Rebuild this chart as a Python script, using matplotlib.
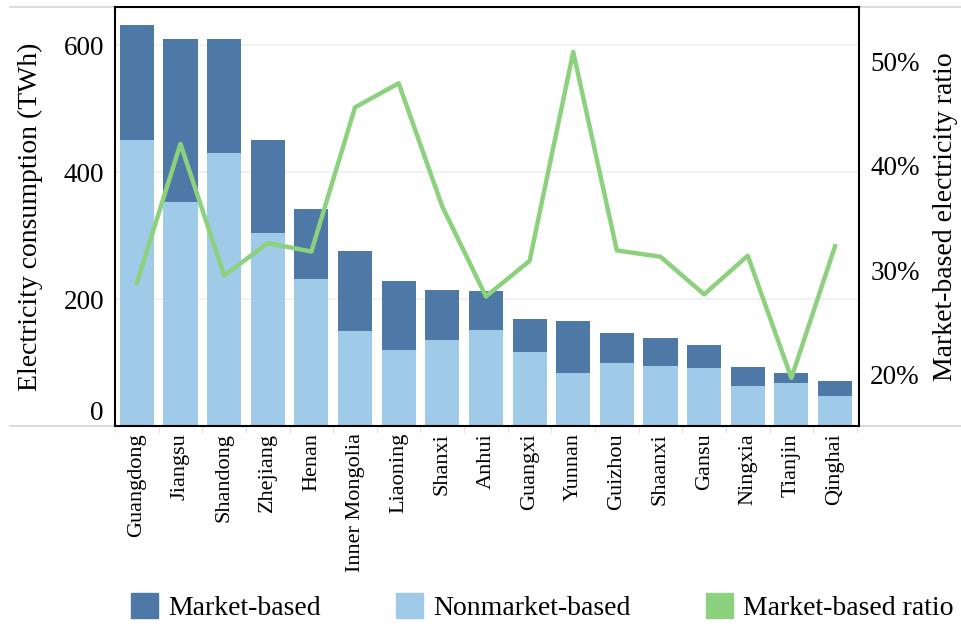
"""
Market-based vs nonmarket-based electricity consumption by province, with
market-based share on a secondary axis.
"""
import matplotlib
matplotlib.use("Agg")
import matplotlib.pyplot as plt
import matplotlib.transforms as mtransforms
from matplotlib.lines import Line2D
from matplotlib.patches import Patch
from matplotlib.ticker import FuncFormatter

provinces = ["Guangdong", "Jiangsu", "Shandong", "Zhejiang", "Henan", "Inner Mongolia",
             "Liaoning", "Shanxi", "Anhui", "Guangxi", "Yunnan", "Guizhou", "Shaanxi",
             "Gansu", "Ningxia", "Tianjin", "Qinghai"]
total = [632, 610, 609, 451, 342, 275, 229, 215, 213, 169, 166, 147, 138, 127, 93, 84, 71]
nonmarket = [451, 353, 430, 304, 231, 149, 119, 136, 152, 116, 83, 100, 95, 92, 63, 68, 47]
ratio = [0.288, 0.421, 0.295, 0.326, 0.318, 0.456, 0.479, 0.361, 0.275, 0.309, 0.509,
         0.319, 0.313, 0.277, 0.314, 0.197, 0.323]

DARK = "#4e79a7"
LIGHT = "#a0cbe8"
GREEN = "#8cd17d"

plt.rcParams["font.family"] = ["Liberation Serif", "DejaVu Serif"]

fig = plt.figure(figsize=(9.61, 6.26), dpi=100)
ax = fig.add_axes([0.1197, 0.3195, 0.7742, 0.6693])

x = list(range(len(provinces)))
market = [t - n for t, n in zip(total, nonmarket)]
ax.bar(x, nonmarket, width=0.78, color=LIGHT, zorder=2)
ax.bar(x, market, width=0.78, bottom=nonmarket, color=DARK, zorder=2)

ax.set_xlim(-0.48, 16.55)
ax.set_ylim(0, 660)
ax.set_yticks([0, 200, 400, 600])
ax.grid(axis="y", color="#efefef", linewidth=1.2, zorder=0)
ax.tick_params(axis="y", length=0, labelsize=19.5, pad=8)
ax.set_ylabel("Electricity consumption (TWh)", fontsize=20)
ax.yaxis.set_label_coords(-0.097, 0.5)

# the zero label sits a bit above the baseline in the original
zero = ax.get_yticklabels()[0]
zero.set_transform(zero.get_transform()
                   + mtransforms.ScaledTranslation(0, 0.15, fig.dpi_scale_trans))

ax.set_xticks(x)
ax.set_xticklabels(provinces, rotation=90, fontsize=16)
ax.tick_params(axis="x", length=0, pad=5)
ax.set_xticks([i + 0.5 for i in range(-1, len(provinces))], minor=True)
ax.tick_params(axis="x", which="minor", length=5, color="#dddddd")
for s in ax.spines.values():
    s.set_linewidth(1.5)
    s.set_color("black")

ax2 = ax.twinx()
ax2.plot(x, ratio, color=GREEN, linewidth=3.2, zorder=3)
ax2.set_ylim(0.151, 0.552)
ax2.set_yticks([0.2, 0.3, 0.4, 0.5])
ax2.yaxis.set_major_formatter(FuncFormatter(lambda v, _: f"{v * 100:.0f}%"))
ax2.tick_params(axis="y", length=0, labelsize=19.5, pad=8)
ax2.set_ylabel("Market-based electricity ratio", fontsize=20)
ax2.yaxis.set_label_coords(1.1, 0.5)
for s in ax2.spines.values():
    s.set_visible(False)

# faint horizontal rules running past the panel, as in the original
for yy in (0.9888, 0.3195):
    fig.add_artist(Line2D([0.01, 1.0], [yy, yy], transform=fig.transFigure,
                          color="#d6d6d6", linewidth=1.2, zorder=0))

handles = [Patch(color=DARK), Patch(color=LIGHT), Patch(color=GREEN)]
labels = ["Market-based", "Nonmarket-based", "Market-based ratio"]
fig.legend(handles, labels, loc="center", bbox_to_anchor=(0.564, 0.03), ncol=3,
           frameon=False, fontsize=20, handlelength=1.0, handleheight=1.0,
           handletextpad=0.35, columnspacing=2.7, borderpad=0)

fig.savefig("out.png", dpi=100)
